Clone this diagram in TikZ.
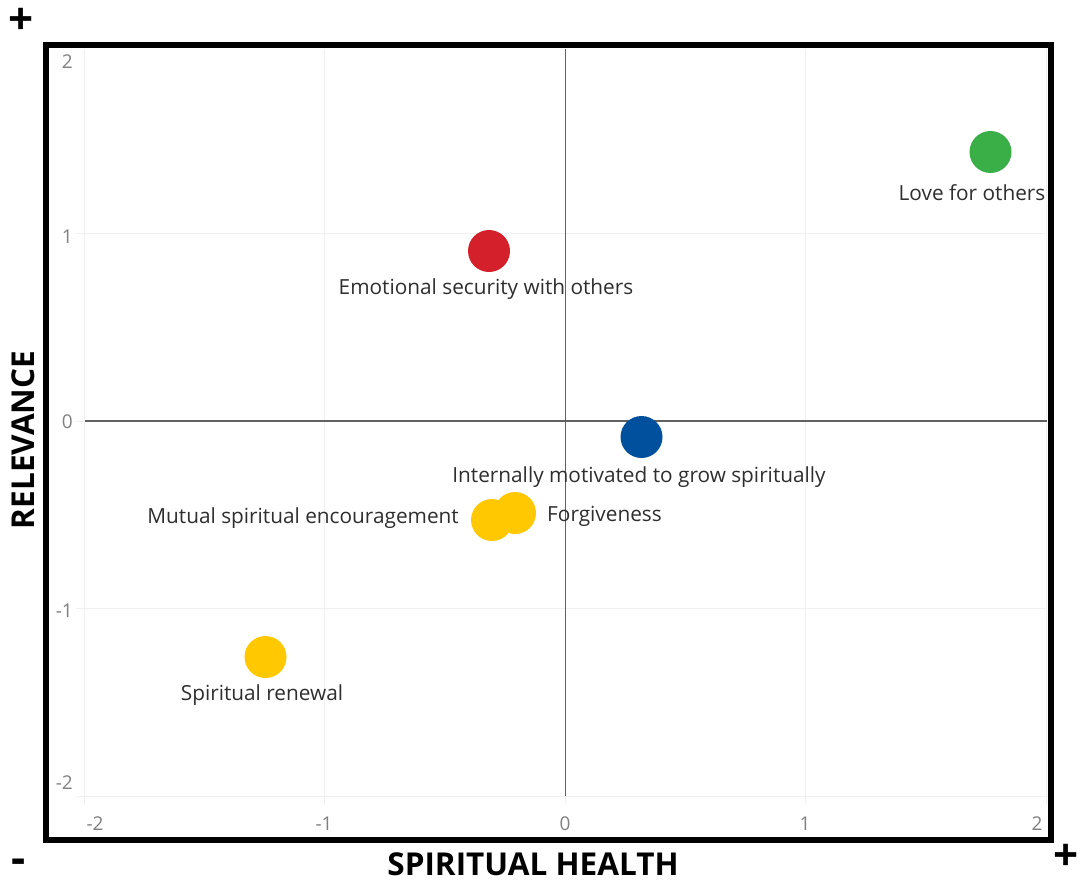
\documentclass[tikz,border=0pt]{standalone}
\usepackage{fontspec}
\setmainfont{Open Sans}
\begin{document}
\begin{tikzpicture}[x=1pt,y=-1pt,
  dot/.style={circle,inner sep=0pt,minimum size=42pt,draw=none},
  lbl/.style={font=\fontsize{20.8}{22}\selectfont,text=black!82,inner sep=0pt},
  tick/.style={font=\fontsize{19}{20}\selectfont,text=black!50,inner sep=0pt},
  grid/.style={draw=black!6,line width=1pt},
  zero/.style={draw=black!62,line width=1.3pt},
  title/.style={font=\fontsize{31.5}{33}\selectfont\bfseries,text=black,inner sep=0pt},
  sign/.style={font=\fontsize{44}{44}\selectfont\bfseries,text=black,inner sep=0pt}]
\useasboundingbox (0,0) rectangle (1083,883);
\definecolor{cgreen}{HTML}{3AAF47}
\definecolor{cred}{HTML}{D3202A}
\definecolor{cblue}{HTML}{00509E}
\definecolor{cyellow}{HTML}{FFC800}
% grid
\foreach \x in {84,324.75,805.5,1046}{\draw[grid] (\x,49) -- (\x,804);}
\foreach \y in {233.5,608.5,796}{\draw[grid] (76,\y) -- (1047,\y);}
% zero lines
\coordinate (xl) at (85,421);
\coordinate (xr) at (1047,421);
\coordinate (yt) at (565.5,49);
\coordinate (yb) at (565.5,796);
\draw[grid] (76,421) -- (xl);
\draw[grid] (yb) -- (565.5,804);
\draw[zero] (xl) -- (xr);
\draw[zero] (yt) -- (yb);
% frame
\draw[line width=6.5pt] (46,45) rectangle (1051,840);
% tick labels
\node[tick,anchor=east] (t2) at (73,62) {2};
\node[tick,anchor=east] (t1) at (73,237) {1};
\node[tick,anchor=east] (t0) at (73,422) {0};
\node[tick,anchor=east] (tm1) at (73,611) {-1};
\node[tick,anchor=east] (tm2) at (73,783) {-2};
\node[tick] (xm2) at (95,824) {-2};
\node[tick] (xm1) at (324,824) {-1};
\node[tick] (x0) at (565,824) {0};
\node[tick] (x1) at (805,824) {1};
\node[tick] (x2) at (1037,824) {2};
% points
\node[dot,fill=cgreen] (love) at (990.5,152) {};
\node[dot,fill=cred] (emo) at (489,251) {};
\node[dot,fill=cblue] (intm) at (641.5,437) {};
\node[dot,fill=cyellow] (forg) at (515,513) {};
\node[dot,fill=cyellow] (mut) at (492,520) {};
\node[dot,fill=cyellow] (ren) at (265.5,657) {};
% labels
\node[lbl] (lovel) at (972,193) {Love for others};
\node[lbl] (emol) at (486,289) {Emotional security with others};
\node[lbl] (intml) at (639,477) {Internally motivated to grow spiritually};
\node[lbl,anchor=east] (mutl) at (459,518) {Mutual spiritual encouragement};
\node[lbl,anchor=west] (forgl) at (547,516) {Forgiveness};
\node[lbl] (renl) at (262,695) {Spiritual renewal};
% axis titles
\node[title] (xt) at (533,864) {SPIRITUAL HEALTH};
\node[title,rotate=90] (yt2) at (23,440) {RELEVANCE};
% signs
\node[sign] (ptl) at (21,21) {+};
\node[sign] (mbl) at (19,866) {-};
\node[sign] (pbr) at (1066,857) {+};
\end{tikzpicture}
\end{document}
